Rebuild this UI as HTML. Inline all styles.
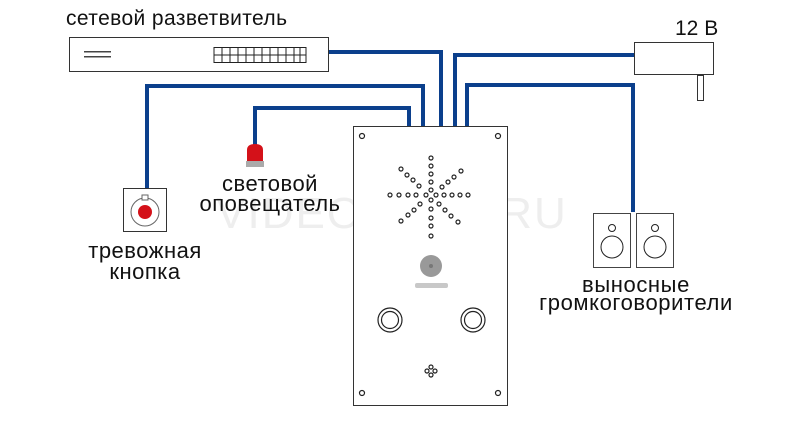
<!DOCTYPE html>
<html><head><meta charset="utf-8"><style>
body{margin:0;background:#fff;}
svg text{font-family:"Liberation Sans","DejaVu Sans",sans-serif;fill:#111;}
</style></head><body>
<svg width="785" height="423" viewBox="0 0 785 423" xmlns="http://www.w3.org/2000/svg">
<text x="392" y="228" font-size="44" text-anchor="middle" style="fill:#eeeeee" letter-spacing="2">VIDEOGLAZ.RU</text>
<g fill="none" stroke="#0b3f8c" stroke-width="4">
<polyline points="328,52 441,52 441,127"/>
<polyline points="147,188 147,86 423,86 423,127"/>
<polyline points="255,145 255,108 409,108 409,127"/>
<polyline points="455,127 455,55 634,55"/>
<polyline points="467,127 467,85 633,85 633,212"/>
</g>
<text x="66" y="25" font-size="21" letter-spacing="0.4">сетевой разветвитель</text>
<rect x="69.5" y="37.5" width="259" height="34" fill="#fff" stroke="#333"/>
<g fill="#444">
<rect x="84" y="51" width="27" height="1.5"/><rect x="84" y="56" width="27" height="1.5"/>
</g>
<rect x="214" y="47.5" width="92" height="15" fill="#fff" stroke="#222"/>
<line x1="214" y1="55" x2="306" y2="55" stroke="#222"/>
<g stroke="#222">
<line x1="222" y1="47" x2="222" y2="63"/><line x1="230" y1="47" x2="230" y2="63"/><line x1="238" y1="47" x2="238" y2="63"/><line x1="246" y1="47" x2="246" y2="63"/><line x1="254" y1="47" x2="254" y2="63"/><line x1="262" y1="47" x2="262" y2="63"/><line x1="270" y1="47" x2="270" y2="63"/><line x1="278" y1="47" x2="278" y2="63"/><line x1="286" y1="47" x2="286" y2="63"/><line x1="294" y1="47" x2="294" y2="63"/><line x1="300" y1="47" x2="300" y2="63"/>
</g>
<text x="675" y="35" font-size="21">12 В</text>
<rect x="634.5" y="42.5" width="79" height="32" fill="#fff" stroke="#333"/>
<rect x="697.5" y="75.5" width="6" height="25" fill="#fff" stroke="#333"/>
<rect x="593.5" y="213.5" width="37" height="54" fill="#fff" stroke="#444"/>
<rect x="636.5" y="213.5" width="37" height="54" fill="#fff" stroke="#444"/>
<g fill="none" stroke="#222">
<circle cx="612" cy="228" r="3.5"/><circle cx="612" cy="247" r="11"/>
<circle cx="655" cy="228" r="3.5"/><circle cx="655" cy="247" r="11"/>
</g>
<text x="636" y="292" font-size="22" letter-spacing="0.6" text-anchor="middle">выносные</text>
<text x="636" y="310" font-size="22" letter-spacing="0.6" text-anchor="middle">громкоговорители</text>
<rect x="123.5" y="188.5" width="43" height="43" fill="#fff" stroke="#333"/>
<circle cx="145" cy="212" r="14" fill="#fff" stroke="#666"/>
<rect x="142" y="195" width="6" height="5" fill="#fff" stroke="#666"/>
<circle cx="145" cy="212" r="7" fill="#d41119"/>
<text x="145" y="258" font-size="22" letter-spacing="0.5" text-anchor="middle">тревожная</text>
<text x="145" y="279" font-size="22" letter-spacing="0.5" text-anchor="middle">кнопка</text>
<path d="M247,161 L247,150 Q247,144 255,144 Q263,144 263,150 L263,161Z" fill="#d41119"/>
<rect x="246" y="161" width="18" height="6" fill="#aaa"/>
<text x="270" y="191" font-size="22" letter-spacing="0.5" text-anchor="middle">световой</text>
<text x="270" y="211" font-size="22" letter-spacing="0.5" text-anchor="middle">оповещатель</text>
<rect x="353.5" y="126.5" width="154" height="279" fill="#fff" stroke="#333"/>
<g fill="none" stroke="#222" stroke-width="1.2">
<circle cx="362" cy="136" r="2.5"/><circle cx="498" cy="136" r="2.5"/><circle cx="362" cy="393" r="2.5"/><circle cx="498" cy="393" r="2.5"/>
<circle cx="431" cy="158" r="2"/><circle cx="431" cy="166" r="2"/><circle cx="431" cy="174" r="2"/><circle cx="431" cy="182" r="2"/><circle cx="431" cy="190" r="2"/><circle cx="431" cy="200" r="2"/><circle cx="431" cy="209" r="2"/><circle cx="431" cy="218" r="2"/><circle cx="431" cy="226" r="2"/><circle cx="431" cy="236" r="2"/>
<circle cx="390" cy="195" r="2"/><circle cx="399" cy="195" r="2"/><circle cx="408" cy="195" r="2"/><circle cx="416" cy="195" r="2"/><circle cx="426" cy="195" r="2"/><circle cx="436" cy="195" r="2"/><circle cx="444" cy="195" r="2"/><circle cx="452" cy="195" r="2"/><circle cx="460" cy="195" r="2"/><circle cx="468" cy="195" r="2"/>
<circle cx="401" cy="169" r="2"/><circle cx="407" cy="175" r="2"/><circle cx="413" cy="180" r="2"/><circle cx="419" cy="186" r="2"/>
<circle cx="461" cy="171" r="2"/><circle cx="454" cy="177" r="2"/><circle cx="448" cy="182" r="2"/><circle cx="442" cy="187" r="2"/>
<circle cx="420" cy="204" r="2"/><circle cx="414" cy="210" r="2"/><circle cx="408" cy="215" r="2"/><circle cx="401" cy="221" r="2"/>
<circle cx="439" cy="204" r="2"/><circle cx="445" cy="210" r="2"/><circle cx="451" cy="216" r="2"/><circle cx="458" cy="222" r="2"/>
<circle cx="390" cy="320" r="12"/><circle cx="390" cy="320" r="8.5"/>
<circle cx="473" cy="320" r="12"/><circle cx="473" cy="320" r="8.5"/>
<circle cx="431" cy="367" r="2"/><circle cx="427" cy="371" r="2"/><circle cx="435" cy="371" r="2"/><circle cx="431" cy="375" r="2"/>
</g>
<circle cx="431" cy="266" r="11" fill="#999"/><circle cx="431" cy="266" r="2" fill="#777"/>
<rect x="415" y="283" width="33" height="5" rx="2" fill="#c8c8c8"/>
</svg>
</body></html>
